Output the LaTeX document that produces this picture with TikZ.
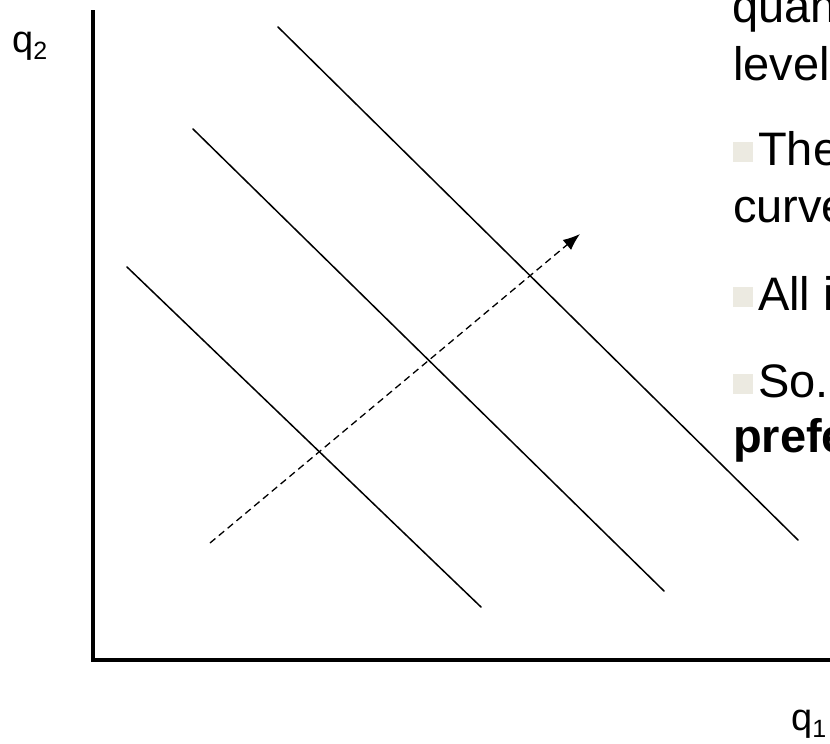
\documentclass[tikz,border=0pt]{standalone}
\usepackage{fontspec}
\setmainfont{Liberation Sans}
\usetikzlibrary{arrows.meta}
\definecolor{bulletgray}{RGB}{236,234,225}
\tikzset{
  icurve/.style={line width=1.5pt, line cap=round},
  axisline/.style={line width=3.4pt},
  arrowline/.style={line width=1.3pt, dash pattern=on 7pt off 4.5pt, -{Latex[length=17pt,width=13pt]}},
  bodytext/.style={inner sep=0pt, anchor=base west, font=\fontsize{47}{56}\selectfont},
  axlabel/.style={inner sep=0pt, anchor=base west, font=\fontsize{38}{40}\selectfont},
  bulletbox/.style={fill=bulletgray, draw=none, minimum size=20pt, inner sep=0pt, anchor=south west}
}
\newcommand{\subscr}[1]{{\fontsize{25}{25}\selectfont\raisebox{-7pt}{#1}}}
\begin{document}
\begin{tikzpicture}[x=1pt,y=-1pt]
\useasboundingbox (0,0) rectangle (830,744);
\clip (0,0) rectangle (830,744);
\fill[white] (0,0) rectangle (830,744);
% axes
\coordinate (top) at (93,10);
\coordinate (origin) at (93,660);
\coordinate (right) at (832,660);
\draw[axisline] (top) -- (origin) -- (right);
% indifference curves
\coordinate (a1) at (127,267); \coordinate (a2) at (481,607);
\coordinate (b1) at (193,129); \coordinate (b2) at (664,591);
\coordinate (c1) at (278,27);  \coordinate (c2) at (798,540);
\draw[icurve] (a1) -- (a2);
\draw[icurve] (b1) -- (b2);
\draw[icurve] (c1) -- (c2);
% dashed arrow
\coordinate (d1) at (210,543); \coordinate (d2) at (580,234);
\draw[arrowline] (d1) -- (d2);
% axis labels
\node[axlabel] (q2) at (12,52) {q\subscr{2}};
\node[axlabel] (q1) at (791,730) {q\subscr{1}};
% text
\node[bodytext] (t1) at (732,22) {quan};
\node[bodytext] (t2) at (733,80) {level};
\node[bulletbox] (b1s) at (733,162) {};
\node[bodytext] (t3) at (758,165) {The};
\node[bodytext] (t4) at (733,222) {curve};
\node[bulletbox] (b2s) at (733,307) {};
\node[bodytext] (t5) at (758,310) {All i};
\node[bulletbox] (b3s) at (733,394) {};
\node[bodytext] (t6) at (758,397) {So.};
\node[bodytext, font=\fontsize{47}{56}\selectfont\bfseries] (t7) at (733,452) {prefe};
\end{tikzpicture}
\end{document}
